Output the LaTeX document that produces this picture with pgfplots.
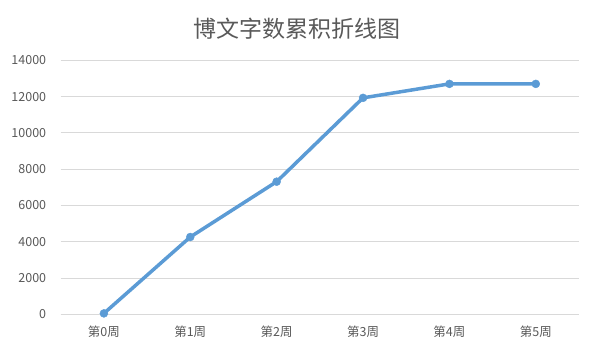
\documentclass[border=0pt]{standalone}
\usepackage{pgfplots}
\pgfplotsset{compat=1.18}
\usepackage{fontspec}
\setmainfont{Noto Sans CJK SC}
\definecolor{linec}{HTML}{5B9BD5}
\definecolor{gridc}{HTML}{D9D9D9}
\definecolor{textc}{HTML}{595959}
\begin{document}
\begin{tikzpicture}
\path[use as bounding box] (0,0) rectangle (592bp,354bp);
\begin{axis}[
  at={(60.7bp,39.7bp)}, anchor=south west,
  scale only axis, width=518.3bp, height=254bp,
  xmin=-0.5, xmax=5.5, ymin=0, ymax=14000,
  xtick={0,1,2,3,4,5},
  xticklabels={第0周,第1周,第2周,第3周,第4周,第5周},
  ytick={0,2000,...,14000},
  scaled y ticks=false,
  /pgf/number format/assume math mode=true,
  yticklabel style={/pgf/number format/fixed, /pgf/number format/1000 sep={}},
  ymajorgrids, grid style={gridc, line width=0.75bp},
  axis x line*=bottom, axis y line*=left,
  x axis line style={draw=gridc, line width=0.75bp, -},
  y axis line style={draw=none},
  major tick length=0pt,
  ticklabel style={font=\fontsize{12.5bp}{14bp}\selectfont, text=textc},
  xticklabel style={yshift=-8bp},
  yticklabel style={xshift=-11bp},
  clip=false,
  title={博文字数累积折线图},
  title style={font=\fontsize{23bp}{26bp}\selectfont, text=textc, at={(0.455,1)}, anchor=south, yshift=11bp},
]
\addplot[draw=linec, line width=3.5bp, mark=*, mark size=4bp, mark options={solid, fill=linec, draw=linec, line width=0.4bp}]
  coordinates {(0,50) (1,4260) (2,7310) (3,11930) (4,12700) (5,12700)};
\end{axis}
\end{tikzpicture}
\end{document}
